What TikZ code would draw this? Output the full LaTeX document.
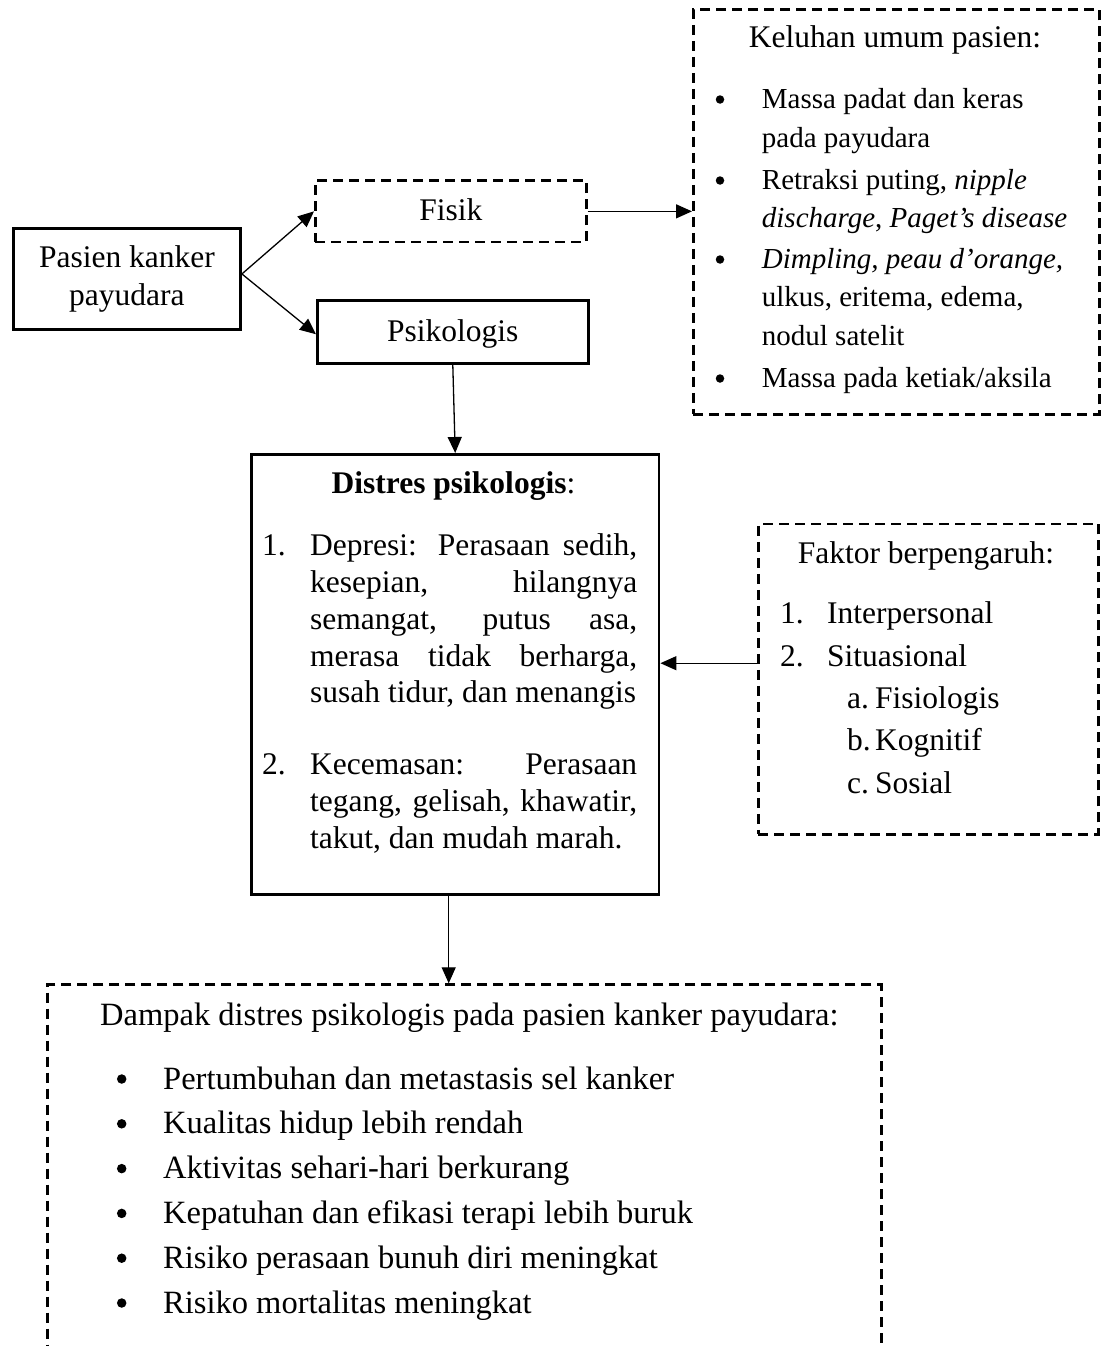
\documentclass[tikz,border=0pt]{standalone}
\usepackage{fontspec}
\setmainfont{Liberation Serif}
\usetikzlibrary{arrows.meta}
\newcommand{\fA}{\fontsize{31.5}{38.7}\selectfont}
\newcommand{\fB}{\fontsize{29}{36}\selectfont}
\newcommand{\fC}{\fontsize{32.5}{40}\selectfont}
\tikzset{
 solidbox/.style={draw, line width=2.9pt, inner sep=0pt, anchor=north west},
 dashbox/.style={draw, line width=2.7pt, dash pattern=on 10pt off 6pt, inner sep=0pt, anchor=north west},
 arr/.style={draw, line width=1.3pt, -{Triangle[length=16pt,width=14pt]}},
 lt/.style={anchor=base west, inner sep=0pt, font=\fA},
 ls/.style={anchor=base west, inner sep=0pt, font=\fB},
 ld/.style={anchor=base west, inner sep=0pt, font=\fC},
 ct/.style={anchor=base, inner sep=0pt, font=\fA},
 dot/.style={circle, fill=black, inner sep=0pt, minimum size=#1},
}
\begin{document}
\begin{tikzpicture}[x=1pt, y=-1pt]
\path[use as bounding box] (0,0) rectangle (1104,1346);
\clip (0,0) rectangle (1104,1346);

% boxes
\node[solidbox, minimum width=227pt, minimum height=101pt, align=center, font=\fA] (pasien) at (12,227) {Pasien kanker\\payudara};
\node[dashbox, minimum width=271pt, minimum height=61.4pt, font=\fA, text height=21.5pt, text depth=3pt] (fisik) at (314,179.3) {Fisik};
\node[solidbox, minimum width=270.7pt, minimum height=63pt, font=\fA, text height=21.5pt, text depth=3pt] (psik) at (316,299.3) {Psikologis};
\node[dashbox, minimum width=406pt, minimum height=404.7pt] (keluhan) at (692,8.3) {};
\node[solidbox, minimum width=407.5pt, minimum height=440pt] (distres) at (250,453) {};
\node[dashbox, minimum width=340pt, minimum height=310.3pt] (faktor) at (757,522.7) {};
\node[dashbox, minimum width=834pt, minimum height=420pt] (dampak) at (46,983.3) {};

% Keluhan text
\node[ct] (kt) at (895,48) {Keluhan umum pasien:};
\node[dot=8.5pt] (kb1) at (720,99.5) {};
\node[ls] (k1) at (761.7,108) {Massa padat dan keras};
\node[ls] (k2) at (761.7,147) {pada payudara};
\node[dot=8.5pt] (kb2) at (720,180.5) {};
\node[ls] (k3) at (761.7,189) {Retraksi puting, \textit{nipple}};
\node[ls] (k4) at (761.7,227) {\textit{discharge}, \textit{Paget’s disease}};
\node[dot=8.5pt] (kb3) at (720,259.5) {};
\node[ls] (k5) at (761.7,268) {\textit{Dimpling, peau d’orange,}};
\node[ls] (k6) at (761.7,306) {ulkus, eritema, edema,};
\node[ls] (k7) at (761.7,345) {nodul satelit};
\node[dot=8.5pt] (kb4) at (720,378.5) {};
\node[ls] (k8) at (761.7,387) {Massa pada ketiak/aksila};

% Distres text
\node[ct] (dt) at (453.5,493.3) {\textbf{Distres psikologis}:};
\node[lt] (dn1) at (262,555.7) {1.};
\node[lt] (d1) at (310,555.7) {\makebox[327pt][s]{Depresi: Perasaan sedih,}};
\node[lt] (d2) at (310,592.5) {\makebox[327pt][s]{kesepian, hilangnya}};
\node[lt] (d3) at (310,629.3) {\makebox[327pt][s]{semangat, putus asa,}};
\node[lt] (d4) at (310,666) {\makebox[327pt][s]{merasa tidak berharga,}};
\node[lt] (d5) at (310,702.5) {susah tidur, dan menangis};
\node[lt] (dn2) at (262,774.5) {2.};
\node[lt] (d6) at (310,774.5) {\makebox[327pt][s]{Kecemasan: Perasaan}};
\node[lt] (d7) at (310,811.5) {\makebox[327pt][s]{tegang, gelisah, khawatir,}};
\node[lt] (d8) at (310,848) {takut, dan mudah marah.};

% Faktor text
\node[ct] (ft) at (926,563.3) {Faktor berpengaruh:};
\node[lt] (fn1) at (780,623.3) {1.};
\node[lt] (f1) at (827,623.3) {Interpersonal};
\node[lt] (fn2) at (780,666.7) {2.};
\node[lt] (f2) at (827,666.7) {Situasional};
\node[lt] (fna) at (847,708.3) {a.};
\node[lt] (fa) at (875,708.3) {Fisiologis};
\node[lt] (fnb) at (847,750) {b.};
\node[lt] (fb) at (875,750) {Kognitif};
\node[lt] (fnc) at (847,793.3) {c.};
\node[lt] (fc) at (875,793.3) {Sosial};

% Dampak text
\node[ld] (mt) at (100,1025) {Dampak distres psikologis pada pasien kanker payudara:};
\node[dot=9.5pt] (mb1) at (121.7,1079) {};
\node[ld] (m1) at (163,1089) {Pertumbuhan dan metastasis sel kanker};
\node[dot=9.5pt] (mb2) at (121.7,1123.8) {};
\node[ld] (m2) at (163,1133.8) {Kualitas hidup lebih rendah};
\node[dot=9.5pt] (mb3) at (121.7,1168.6) {};
\node[ld] (m3) at (163,1178.6) {Aktivitas sehari-hari berkurang};
\node[dot=9.5pt] (mb4) at (121.7,1213.4) {};
\node[ld] (m4) at (163,1223.4) {Kepatuhan dan efikasi terapi lebih buruk};
\node[dot=9.5pt] (mb5) at (121.7,1258.2) {};
\node[ld] (m5) at (163,1268.2) {Risiko perasaan bunuh diri meningkat};
\node[dot=9.5pt] (mb6) at (121.7,1303) {};
\node[ld] (m6) at (163,1313) {Risiko mortalitas meningkat};

% connectors
\draw[arr] ([yshift=5pt]pasien.east) -- (fisik.west);
\draw[arr] ([yshift=5pt]pasien.east) -- ([yshift=-2pt]psik.west);
\draw[arr] (fisik.east) -- (fisik.east -| keluhan.west);
\draw[arr] (psik.south) -- (distres.north);
\draw[arr] ([yshift=16pt]faktor.west) -- ([yshift=16pt]faktor.west -| distres.east);
\draw[arr] ([xshift=-6.5pt]distres.south) -- ([xshift=-6.5pt]distres.south |- dampak.north);
\end{tikzpicture}
\end{document}
